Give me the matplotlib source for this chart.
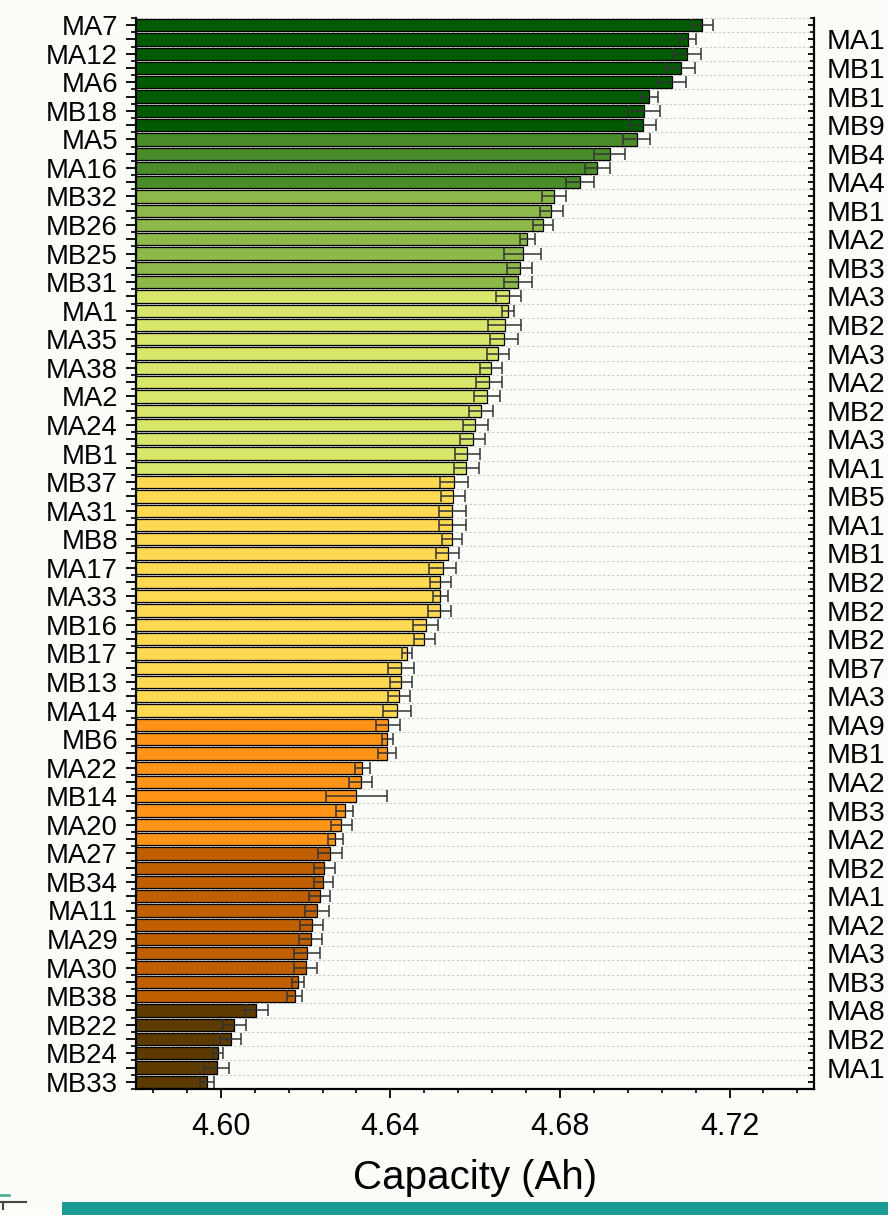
import matplotlib
matplotlib.use('Agg')
import matplotlib.pyplot as plt
from matplotlib.ticker import FixedLocator, MultipleLocator
from matplotlib.patches import Rectangle
from matplotlib.lines import Line2D
import numpy as np

plt.rcParams['font.family'] = ['Liberation Sans', 'DejaVu Sans']

# labels as they show on the chart, top to bottom
# (left axis gets bars 1,3,5..., right axis bars 2,4,6... and is cut at the image edge)
left_labels = ['MA7', 'MA12', 'MA6', 'MB18', 'MA5', 'MA16', 'MB32', 'MB26', 'MB25', 'MB31',
               'MA1', 'MA35', 'MA38', 'MA2', 'MA24', 'MB1', 'MB37', 'MA31', 'MB8', 'MA17',
               'MA33', 'MB16', 'MB17', 'MB13', 'MA14', 'MB6', 'MA22', 'MB14', 'MA20', 'MA27',
               'MB34', 'MA11', 'MA29', 'MA30', 'MB38', 'MB22', 'MB24', 'MB33']
right_labels = ['MA1', 'MB1', 'MB1', 'MB9', 'MB4', 'MA4', 'MB1', 'MA2', 'MB3', 'MA3',
                'MB2', 'MA3', 'MA2', 'MB2', 'MA3', 'MA1', 'MB5', 'MA1', 'MB1', 'MB2',
                'MB2', 'MB2', 'MB7', 'MA3', 'MA9', 'MB1', 'MA2', 'MB3', 'MA2', 'MB2',
                'MA1', 'MA2', 'MA3', 'MB3', 'MA8', 'MB2', 'MA1']

capacity = [4.7136, 4.7102, 4.7099, 4.7085, 4.7064, 4.7011, 4.6998, 4.6995, 4.6981, 4.6918,
            4.6888, 4.6848, 4.6786, 4.6780, 4.6760, 4.6723, 4.6712, 4.6705, 4.6701, 4.6679,
            4.6677, 4.6670, 4.6668, 4.6654, 4.6637, 4.6632, 4.6628, 4.6613, 4.6600, 4.6594,
            4.6581, 4.6579, 4.6551, 4.6547, 4.6546, 4.6546, 4.6546, 4.6535, 4.6523, 4.6518,
            4.6518, 4.6516, 4.6483, 4.6480, 4.6439, 4.6426, 4.6424, 4.6420, 4.6416, 4.6394,
            4.6393, 4.6391, 4.6334, 4.6330, 4.6320, 4.6292, 4.6284, 4.6270, 4.6257, 4.6244,
            4.6242, 4.6233, 4.6228, 4.6214, 4.6212, 4.6204, 4.6200, 4.6182, 4.6174, 4.6084,
            4.6032, 4.6023, 4.5993, 4.5990, 4.5968]

capacity_err = [0.00255, 0.00196, 0.00326, 0.00343, 0.00323, 0.00204, 0.00382, 0.00327, 0.00314, 0.00366,
                0.00295, 0.00331, 0.00279, 0.00268, 0.00232, 0.00181, 0.00434, 0.00291, 0.00326, 0.00295,
                0.00137, 0.00390, 0.00319, 0.00260, 0.00255, 0.00302, 0.00299, 0.00284, 0.00295, 0.00295,
                0.00295, 0.00295, 0.00331, 0.00284, 0.00319, 0.00319, 0.00240, 0.00263, 0.00312, 0.00256,
                0.00185, 0.00268, 0.00292, 0.00243, 0.00115, 0.00307, 0.00260, 0.00267, 0.00331, 0.00284,
                0.00137, 0.00213, 0.00185, 0.00275, 0.00709, 0.00193, 0.00248, 0.00181, 0.00287, 0.00252,
                0.00217, 0.00256, 0.00284, 0.00280, 0.00267, 0.00304, 0.00280, 0.00145, 0.00177, 0.00275,
                0.00268, 0.00256, 0.00118, 0.00295, 0.00165]

# colour groups, top to bottom
group_sizes = [8, 4, 7, 13, 17, 9, 11, 6]
group_colors = ['#005A00', '#4A8C2A', '#8DB84A', '#D9E66C', '#FFD954', '#FF9418', '#BF5F00', '#5C3A00']

bar_colors = []
for n, c in zip(group_sizes, group_colors):
    bar_colors += [c] * n

n_bars = len(capacity)
left_ticklabels = [''] * n_bars
right_ticklabels = [''] * n_bars
left_ticklabels[0::2] = left_labels
right_ticklabels[1::2] = right_labels

bg = '#FAFDF8'
W, H = 888, 1215
fig = plt.figure(figsize=(W / 100, H / 100), dpi=100, facecolor=bg)
ax = fig.add_axes([136 / W, 1 - 1089 / H, (814.3 - 136) / W, (1089 - 18) / H])
ax.set_facecolor(bg)

y = np.arange(n_bars)
ax.barh(y, capacity, height=0.86, color=bar_colors, edgecolor='black', linewidth=0.9, zorder=2)
ax.errorbar(capacity, y, xerr=capacity_err, fmt='none', ecolor='#333333',
            elinewidth=1.1, capsize=4.3, capthick=1.1, zorder=3)

ax.set_xlim(4.58, 4.74)
ax.set_ylim(n_bars - 0.5, -0.5)
ax.set_xticks([4.60, 4.64, 4.68, 4.72])
ax.set_xticklabels(['4.60', '4.64', '4.68', '4.72'])
ax.xaxis.set_minor_locator(MultipleLocator(0.008))
ax.tick_params(axis='x', which='major', direction='out', length=6.5, width=1.3, labelsize=22, pad=10)
ax.tick_params(axis='x', which='minor', direction='out', length=3, width=1.2)

ax.set_yticks(y)
ax.set_yticklabels(left_ticklabels)
ax.yaxis.set_minor_locator(FixedLocator(np.arange(-0.5, n_bars, 1.0)))
ax.tick_params(axis='y', which='major', direction='out', length=7, width=1.3, labelsize=19.8, pad=6)
ax.tick_params(axis='y', which='minor', direction='out', length=3.5, width=1.2)

ax.set_axisbelow(True)
ax.grid(which='minor', axis='y', color='#C8C8C8', linestyle=(0, (2, 2)), linewidth=0.8)

ax.spines['top'].set_visible(False)
ax.spines['right'].set_visible(False)
ax.spines['left'].set_linewidth(1.6)
ax.spines['bottom'].set_linewidth(1.6)

ax.set_xlabel('Capacity (Ah)', fontsize=29, labelpad=12)

ax2 = ax.twinx()
ax2.set_ylim(ax.get_ylim())
ax2.set_yticks(y)
ax2.set_yticklabels(right_ticklabels)
ax2.yaxis.set_minor_locator(FixedLocator(np.arange(-0.5, n_bars, 1.0)))
ax2.tick_params(axis='y', which='major', direction='in', length=4.5, width=1.3, labelsize=20.5, pad=9)
ax2.tick_params(axis='y', which='minor', direction='in', length=2.8, width=1.2)
for s in ['top', 'bottom', 'left']:
    ax2.spines[s].set_visible(False)
ax2.spines['right'].set_linewidth(1.6)

# teal strip and small marks at the bottom edge
fig.patches.append(Rectangle((62 / W, 0), (W - 62) / W, 13.3 / H, transform=fig.transFigure,
                             facecolor='#1A9C94', edgecolor='none'))
fig.lines.append(Line2D([0, 9 / W], [1 - 1194.5 / H] * 2, transform=fig.transFigure,
                        color='#3DAA8C', linewidth=1.8))
fig.lines.append(Line2D([0, 26 / W], [1 - 1201.7 / H] * 2, transform=fig.transFigure,
                        color='#444444', linewidth=1.5))
fig.lines.append(Line2D([3 / W, 3 / W], [1 - 1201.7 / H, 1 - 1209 / H], transform=fig.transFigure,
                        color='#444444', linewidth=1.5))

fig.savefig('out.png', dpi=100, facecolor=bg)
